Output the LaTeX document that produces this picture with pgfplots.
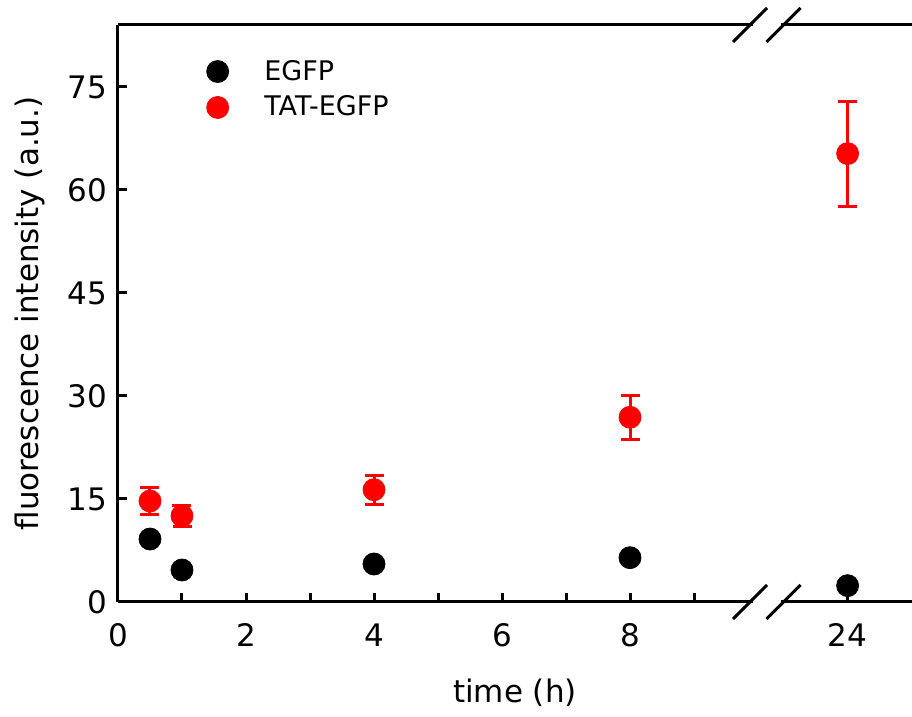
\documentclass[border=0pt]{standalone}
\usepackage{pgfplots}
\pgfplotsset{compat=1.18}
\usepackage{fontspec}
\setmainfont{DejaVu Sans}
\begin{document}
\begin{tikzpicture}
\begin{axis}[
  scale only axis, width=397pt, height=288.5pt,
  xmin=0, xmax=12.406, ymin=0, ymax=84.03,
  axis x line=box, axis y line=left,
  axis line style={-, line width=1.5pt, black},
  xtick pos=left, ytick pos=left,
  tick align=inside,
  tick style={line width=1.5pt, black},
  major tick length=4.5pt, minor tick length=4.5pt,
  xtick={0,2,4,6,8,11.4}, xticklabels={0,2,4,6,8,24},
  minor xtick={1,3,5,7,9},
  ytick={0,15,30,45,60,75},
  /pgf/number format/assume math mode=true,
  ticklabel style={font=\fontsize{15.5}{18.6}\selectfont},
  xticklabel style={yshift=-7.3pt},
  yticklabel style={xshift=-2pt},
  xlabel={time (h)}, ylabel={fluorescence intensity (a.u.)},
  label style={font=\fontsize{15.5}{18.6}\selectfont},
  xlabel style={at={(axis description cs:0.5,-0.1577)}, anchor=center},
  ylabel style={at={(axis description cs:-0.1108,0.5)}, anchor=center},
  clip=false,
  legend style={draw=none, fill=none, inner sep=0pt, outer sep=0pt,
    at={(rel axis cs:0.1117,0.9393)}, anchor=north west,
    font=\fontsize{13.5}{16.2}\selectfont, row sep=6.45pt, column sep=0pt,
    nodes={inner sep=0pt, outer sep=0pt}},
  legend cell align=left,
  legend image code/.code={\path[draw=none,fill=none] (-5.5pt,-5.5pt) rectangle (23.3pt,5.5pt); \draw[#1] plot coordinates {(0pt,0pt)};},
]
\addplot[only marks, mark=*, mark size=5.5pt, black] coordinates {
(0.5,9.17) (1,4.66) (4,5.53) (8,6.45) (11.4,2.38)};
\addlegendentry{EGFP}
\addplot[only marks, mark=*, mark size=5.5pt, red,
  error bars/.cd, y dir=both, y explicit,
  error bar style={line width=1.5pt, red},
  error mark options={rotate=90, mark size=4.75pt, line width=1.5pt, red}]
  coordinates {
(0.5,14.7) +- (0,1.9)
(1,12.55) +- (0,1.5)
(4,16.35) +- (0,2.1)
(8,26.9) +- (0,3.2)
(11.4,65.3) +- (0,7.65)};
\addlegendentry{TAT-EGFP}
% axis break
\draw[white, line width=3pt] (rel axis cs:0.7995,0) -- (rel axis cs:0.8348,0);
\draw[white, line width=3pt] (rel axis cs:0.7995,1) -- (rel axis cs:0.8348,1);
\draw[black, line width=1.5pt] ([shift={(-8.5pt,-8.5pt)}]rel axis cs:0.7960,0) -- ([shift={(8.5pt,8.5pt)}]rel axis cs:0.7960,0);
\draw[black, line width=1.5pt] ([shift={(-8.5pt,-8.5pt)}]rel axis cs:0.8383,0) -- ([shift={(8.5pt,8.5pt)}]rel axis cs:0.8383,0);
\draw[black, line width=1.5pt] ([shift={(-8.5pt,-8.5pt)}]rel axis cs:0.7960,1) -- ([shift={(8.5pt,8.5pt)}]rel axis cs:0.7960,1);
\draw[black, line width=1.5pt] ([shift={(-8.5pt,-8.5pt)}]rel axis cs:0.8383,1) -- ([shift={(8.5pt,8.5pt)}]rel axis cs:0.8383,1);
\coordinate (SW) at (rel axis cs:0,0);
\coordinate (NE) at (rel axis cs:1,1);
\end{axis}
\pgfresetboundingbox
\path[use as bounding box] ([shift={(-59pt,-57.5pt)}]SW) rectangle ([shift={(0pt,12.5pt)}]NE);
\end{tikzpicture}
\end{document}
